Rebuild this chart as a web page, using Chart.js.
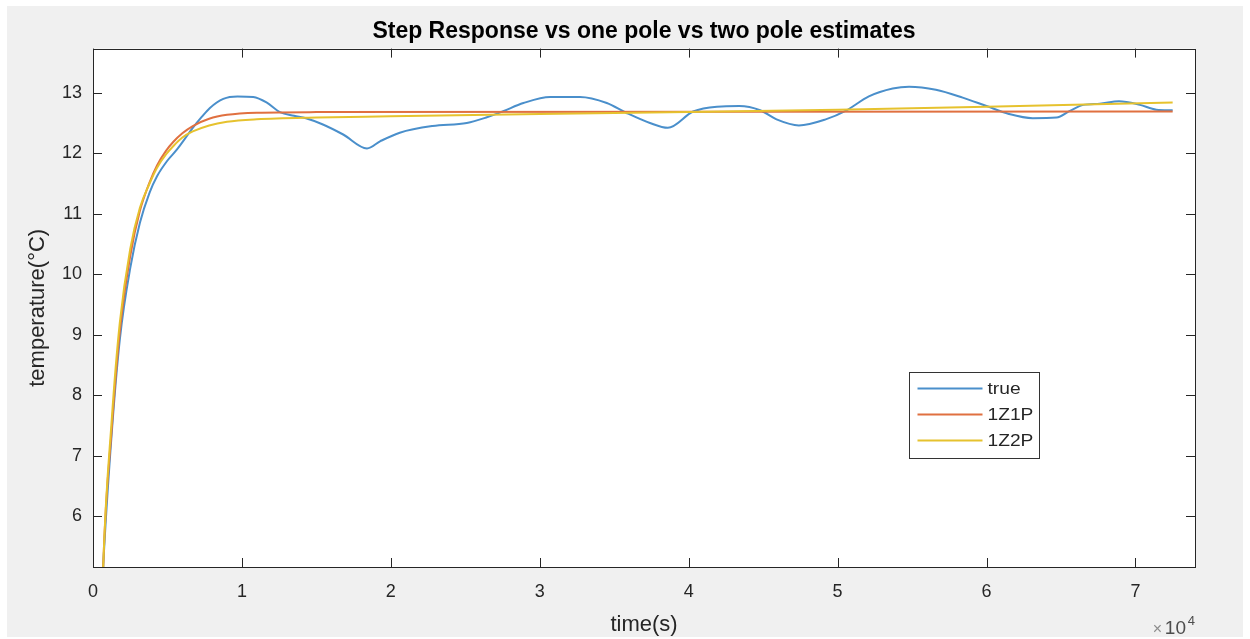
<!DOCTYPE html>
<html>
<head>
<meta charset="utf-8">
<script src="https://cdn.jsdelivr.net/npm/chart.js@4/dist/chart.umd.min.js"></script>
<style>
  html, body { margin: 0; padding: 0; background: #ffffff; }
  #wrap { width: 1250px; height: 639px; }
</style>
</head>
<body>
<div id="wrap"><canvas id="stepChart" width="1250" height="639"></canvas></div>
<script>
// measured step response (seconds, degC)
const trueTime = [600, 690, 1260, 1800, 2500, 3150, 3800, 4300, 5000, 5600, 6200, 6700, 7300, 7850, 8750, 9700,
  10760, 11650, 12550, 13500, 14300, 15400, 16800, 18400, 19300, 20600, 22800, 25100, 26400, 27500, 28900, 30700,
  32700, 34500, 35800, 37400, 38600, 40300, 41900, 43400, 44800, 45900, 47400, 49200, 50600, 52100, 53700,
  54800, 56600, 58400, 60000, 61500, 63100, 64700, 65600, 66500, 67600, 68900, 70300, 71400, 72500];
const trueTemp = [4.7, 5.2, 7.38, 8.92, 10.1, 10.85, 11.35, 11.62, 11.88, 12.05, 12.25, 12.42, 12.60, 12.75, 12.90, 12.94,
  12.93, 12.84, 12.68, 12.62, 12.58, 12.48, 12.31, 12.08, 12.20, 12.34, 12.45, 12.50, 12.59, 12.69, 12.83, 12.93,
  12.93, 12.83, 12.67, 12.50, 12.42, 12.69, 12.77, 12.78, 12.71, 12.56, 12.46, 12.56, 12.71, 12.94, 13.07,
  13.10, 13.05, 12.92, 12.78, 12.65, 12.58, 12.59, 12.70, 12.80, 12.82, 12.86, 12.80, 12.72, 12.71];

// one zero / one pole estimate
const z1pTime = [600, 690, 1260, 1800, 2500, 3150, 3800, 4300, 4900, 5400, 6000, 6700, 7800, 9000, 11000, 15000, 72500];
const z1pTemp = [4.3, 5.2, 7.45, 9.05, 10.3, 11.05, 11.52, 11.80, 12.04, 12.19, 12.33, 12.45, 12.57, 12.635, 12.67, 12.68, 12.69];

// one zero / two pole estimate
const z2pTime = [600, 690, 1260, 1800, 2500, 3150, 3800, 4300, 4900, 5400, 6000, 6700, 7800, 9000, 11000, 15000,
  20000, 30000, 40000, 50000, 60000, 72500];
const z2pTemp = [4.3, 5.2, 7.6, 9.2, 10.42, 11.1, 11.5, 11.76, 11.98, 12.12, 12.26, 12.36, 12.46, 12.52, 12.56, 12.59,
  12.61, 12.65, 12.68, 12.72, 12.77, 12.84];

const seriesLabels = ['true', '1Z1P', '1Z2P'];
const xTickValues = [0, 10000, 20000, 30000, 40000, 50000, 60000, 70000];
const xTickScale = 10000;

const FONT = "'Liberation Sans', Arial, Helvetica, sans-serif";
const INK = '#262626';

function toPoints(xs, ys) {
  return xs.map((x, i) => ({ x: x, y: ys[i] }));
}

// figure background, white axes, inward ticks, box and legend
const matlabLook = {
  id: 'matlabLook',
  beforeDraw(chart) {
    const ctx = chart.ctx;
    const a = chart.chartArea;
    ctx.save();
    ctx.fillStyle = '#ffffff';
    ctx.fillRect(0, 0, chart.width, chart.height);
    ctx.fillStyle = '#f0f0f0';
    ctx.fillRect(7, 6, 1236, 631);
    ctx.fillStyle = '#ffffff';
    ctx.fillRect(a.left, a.top, a.right - a.left, a.bottom - a.top);
    ctx.restore();
  },
  afterDatasetsDraw(chart) {
    const ctx = chart.ctx;
    const a = chart.chartArea;
    const xs = chart.scales.x, ys = chart.scales.y;
    const len = 9;
    ctx.save();
    ctx.strokeStyle = INK;
    ctx.lineWidth = 1;
    ctx.beginPath();
    xs.ticks.forEach(t => {
      const px = Math.round(xs.getPixelForValue(t.value)) + 0.5;
      ctx.moveTo(px, a.bottom); ctx.lineTo(px, a.bottom - len);
      ctx.moveTo(px, a.top); ctx.lineTo(px, a.top + len);
    });
    ys.ticks.forEach(t => {
      const py = Math.round(ys.getPixelForValue(t.value)) + 0.5;
      ctx.moveTo(a.left, py); ctx.lineTo(a.left + len, py);
      ctx.moveTo(a.right, py); ctx.lineTo(a.right - len, py);
    });
    ctx.stroke();
    ctx.strokeRect(Math.round(a.left) + 0.5, Math.round(a.top) + 0.5,
      Math.round(a.right - a.left), Math.round(a.bottom - a.top));

    // exponent note under the x axis
    ctx.textBaseline = 'alphabetic';
    ctx.textAlign = 'right';
    ctx.fillStyle = '#4d4d4d';
    ctx.font = '13px ' + FONT;
    ctx.fillText('4', a.right, 625);
    ctx.font = '19px ' + FONT;
    ctx.fillText('10', a.right - 9, 634);
    ctx.font = '16px ' + FONT;
    ctx.fillStyle = '#8c8c8c';
    ctx.fillText('\u00d7', a.right - 33, 634);
    ctx.restore();
  },
  afterDraw(chart) {
    const ctx = chart.ctx;
    const a = chart.chartArea;
    const bx = Math.round(a.left + 0.7405 * (a.right - a.left)) + 0.5;
    const by = Math.round(a.top + 0.6236 * (a.bottom - a.top)) + 0.5;
    const bw = 130, bh = 86;
    ctx.save();
    ctx.fillStyle = '#ffffff';
    ctx.fillRect(bx, by, bw, bh);
    ctx.strokeStyle = '#333333';
    ctx.lineWidth = 1;
    ctx.strokeRect(bx, by, bw, bh);
    ctx.font = '16px ' + FONT;
    ctx.textAlign = 'left';
    ctx.textBaseline = 'middle';
    chart.data.datasets.forEach((ds, i) => {
      const ry = by + 16 + i * 26;
      ctx.strokeStyle = ds.borderColor;
      ctx.lineWidth = 2;
      ctx.beginPath();
      ctx.moveTo(bx + 8, ry);
      ctx.lineTo(bx + 73, ry);
      ctx.stroke();
      ctx.save();
      ctx.translate(bx + 78, ry + 1);
      ctx.scale(1.2, 1);
      ctx.fillStyle = INK;
      ctx.fillText(ds.label, 0, 0);
      ctx.restore();
    });
    ctx.restore();
  }
};

const ctx = document.getElementById('stepChart').getContext('2d');
const stepChart = new Chart(ctx, {
  type: 'line',
  data: {
    datasets: [
      {
        label: seriesLabels[0],
        data: toPoints(trueTime, trueTemp),
        borderColor: '#4a8fcb',
        order: 3
      },
      {
        label: seriesLabels[1],
        data: toPoints(z1pTime, z1pTemp),
        borderColor: '#e07040',
        order: 2
      },
      {
        label: seriesLabels[2],
        data: toPoints(z2pTime, z2pTemp),
        borderColor: '#e6c22e',
        order: 1
      }
    ]
  },
  options: {
    responsive: false,
    animation: false,
    devicePixelRatio: 1,
    datasets: {
      line: {
        borderWidth: 2,
        pointRadius: 0,
        fill: false,
        cubicInterpolationMode: 'monotone'
      }
    },
    layout: {
      padding: { left: 0, right: 55, top: 0, bottom: 0 }
    },
    scales: {
      x: {
        type: 'linear',
        min: 0,
        max: 74000,
        afterFit: s => { s.height = 72; },
        afterBuildTicks: s => { s.ticks = xTickValues.map(v => ({ value: v })); },
        grid: { display: false, drawTicks: false },
        border: { display: false },
        ticks: {
          autoSkip: false,
          padding: 14,
          color: INK,
          font: { family: FONT, size: 18 },
          maxRotation: 0,
          callback: v => String(v / xTickScale)
        },
        title: {
          display: true,
          text: 'time(s)',
          color: INK,
          font: { family: FONT, size: 22 },
          padding: { top: 0, bottom: 1 }
        }
      },
      y: {
        type: 'linear',
        min: 5.16,
        max: 13.73,
        afterFit: s => { s.width = 93; },
        grid: { display: false, drawTicks: false },
        border: { display: false },
        ticks: {
          stepSize: 1,
          includeBounds: false,
          padding: 11,
          color: INK,
          font: { family: FONT, size: 18 }
        },
        title: {
          display: true,
          text: 'temperature(\u00b0C)',
          color: INK,
          font: { family: FONT, size: 22 },
          padding: { top: 25, bottom: 0 }
        }
      }
    },
    plugins: {
      legend: { display: false },
      tooltip: { enabled: false },
      title: {
        display: true,
        fullSize: false,
        text: 'Step Response vs one pole vs two pole estimates',
        color: '#000000',
        font: { family: FONT, size: 23, weight: 'bold' },
        padding: { top: 18, bottom: 3 }
      }
    }
  },
  plugins: [matlabLook]
});
</script>
</body>
</html>
